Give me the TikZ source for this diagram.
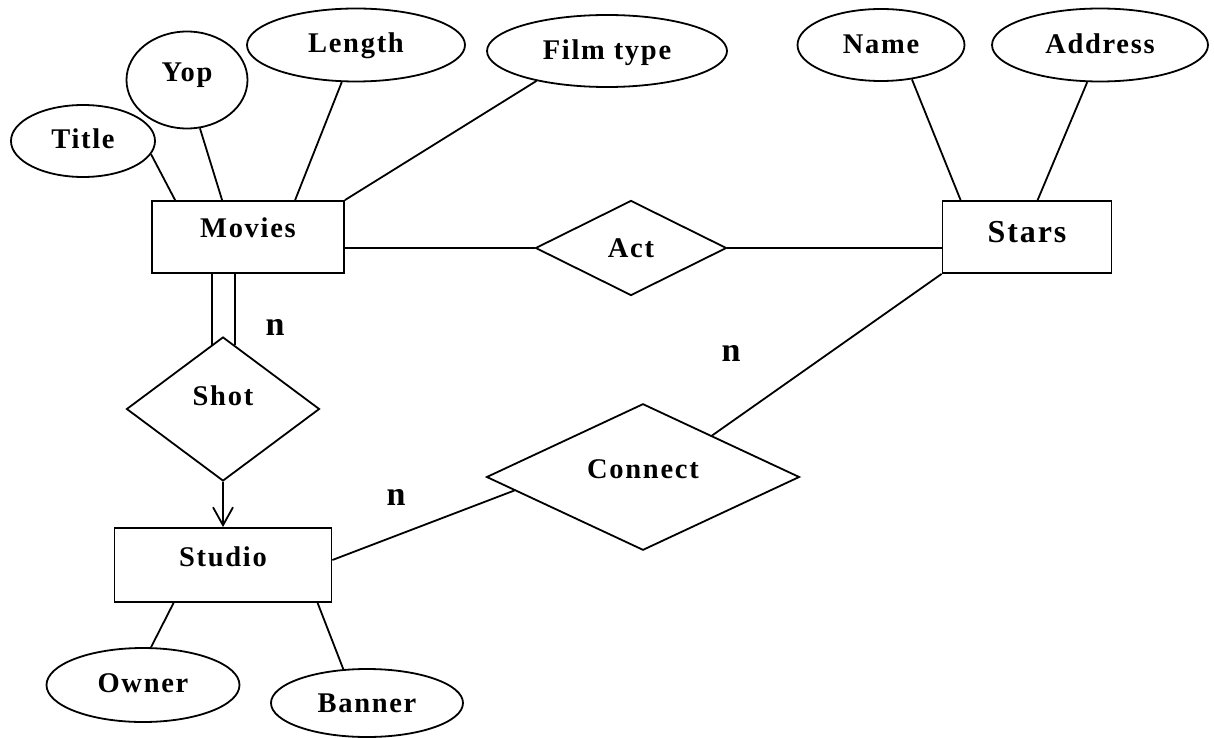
\documentclass[tikz,border=0pt]{standalone}
\usepackage{fontspec}
\setmainfont{Liberation Serif}
\newfontfamily\erfont[LetterSpace=6]{Liberation Serif}
\usetikzlibrary{shapes.geometric,arrows.meta}

\begin{document}
\begin{tikzpicture}[x=1pt, y=-1pt, line width=1.8pt,
    lab/.style={font=\erfont\bfseries\fontsize{28.5}{34}\selectfont, inner sep=0pt},
    lift/.style={text depth=#1},
    entity/.style={lab, draw, rectangle, minimum height=72pt},
    attr/.style={lab, draw, ellipse, minimum height=72pt},
    relship/.style={lab, draw, diamond},
    card/.style={font=\bfseries\fontsize{34}{40}\selectfont, inner sep=0pt}]
    \useasboundingbox (0,0) rectangle (1214,738);

    % Entities
    \node[entity, minimum width=192pt, lift=18pt] (movies) at (248,237) {Movies};
    \node[entity, minimum width=169pt, lift=10pt, font=\erfont\bfseries\fontsize{32}{38}\selectfont] (stars) at (1027,237) {Stars};
    \node[entity, minimum width=217pt, minimum height=74pt, lift=16pt] (studio) at (223,565) {Studio};

    % Attributes
    \node[attr, minimum width=144pt, lift=4pt] (title) at (83,141) {Title};
    \node[attr, minimum width=121pt, minimum height=97pt, lift=16pt] (yop) at (187,80) {Yop};
    \node[attr, minimum width=218pt, minimum height=73pt, lift=4pt] (length) at (356,45) {Length};
    \node[attr, minimum width=240pt, lift=2pt] (filmtype) at (607,51) {Film type};
    \node[attr, minimum width=167pt, lift=2pt] (name) at (881,45) {Name};
    \node[attr, minimum width=216pt, minimum height=73pt, lift=2pt] (address) at (1100,45) {Address};
    \node[attr, minimum width=193pt, minimum height=74pt, lift=3pt] (owner) at (143,685) {Owner};
    \node[attr, minimum width=192pt, minimum height=68pt, lift=0pt] (banner) at (367,703) {Banner};

    % Relationships
    \node[relship, minimum width=191pt, minimum height=95pt, lift=0pt] (act) at (631,248) {Act};
    \node[relship, minimum width=193pt, minimum height=144pt, lift=26pt] (shot) at (223,409) {Shot};
    \node[relship, minimum width=313pt, minimum height=120pt, lift=16pt] (connect) at (643,477) {Connect};

    % Cardinalities
    \node[card] (n1) at (275,327) {n};
    \node[card] (n2) at (396,497) {n};
    \node[card] (n3) at (731,353) {n};

    % Attribute links
    \draw (title.-11) -- ([xshift=24pt]movies.north west);
    \draw (yop.-75) -- ([xshift=71pt]movies.north west);
    \draw (length.-111) -- ([xshift=144pt]movies.north west);
    \draw (filmtype.-157) -- (movies.north east);
    \draw (name.-48) -- ([xshift=19pt]stars.north west);
    \draw (address.-109) -- ([xshift=96pt]stars.north west);
    \draw ([xshift=60pt]studio.south west) -- (owner.78);
    \draw ([xshift=204pt]studio.south west) -- (banner.125);

    % Relationship links
    \draw (act.west) -- (act.west -| movies.east);
    \draw (act.east) -- (act.east -| stars.west);
    \draw (shot.100) -- (shot.100 |- movies.south);
    \draw (shot.79) -- (shot.79 |- movies.south);
    \draw[-{Straight Barb[length=18pt,width=20pt]}] (shot.south) -- (studio.north);
    \draw (stars.south west) -- (connect.31);
    \draw (connect.-174) -- ([yshift=5pt]studio.east);
\end{tikzpicture}
\end{document}
